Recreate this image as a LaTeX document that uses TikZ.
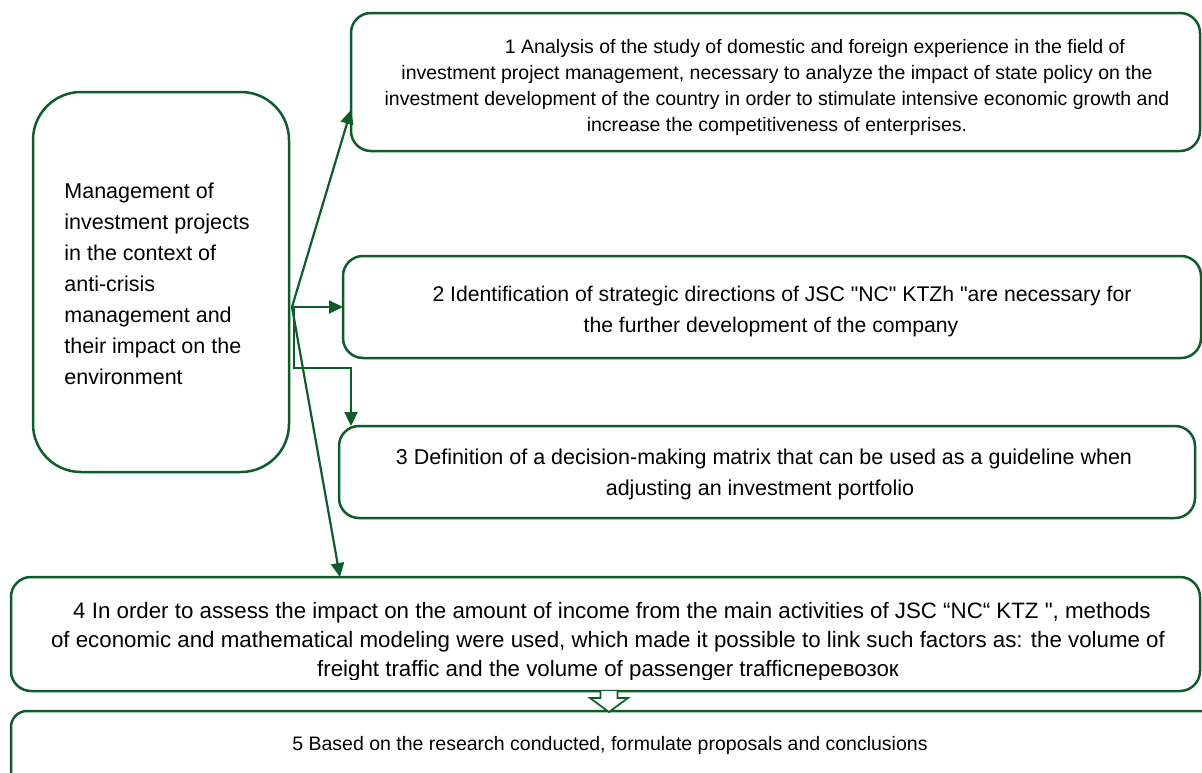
\documentclass[tikz,border=0pt]{standalone}
\usepackage{fontspec}
\setmainfont{Liberation Sans}
\usetikzlibrary{arrows.meta,calc}
\definecolor{grn}{RGB}{14,92,42}
\begin{document}
\begin{tikzpicture}[x=1pt,y=-1pt,
  boxs/.style={draw=grn, line width=2.5pt, rounded corners=#1, inner sep=0pt, outer sep=0pt},
  boxs/.default=20pt,
  txt/.style={align=center, inner sep=0pt, text=black},
  arr/.style={draw=grn, line width=2.2pt, -{Triangle[length=14pt,width=13pt]}},
  hollow/.style={draw=grn, line width=1.7pt, fill=white}]
\useasboundingbox (0,0) rectangle (1202,772);

% boxes
\node[boxs=48pt, minimum width=256pt, minimum height=380pt] (left) at (161,282) {};
\node[boxs, minimum width=849pt, minimum height=138pt] (b1) at (775.5,82) {};
\node[boxs, minimum width=858pt, minimum height=102pt] (b2) at (772,307) {};
\node[boxs, minimum width=856pt, minimum height=92pt] (b3) at (767,472) {};
\node[boxs, minimum width=1189pt, minimum height=114pt] (b4) at (605.5,634) {};
\node[boxs=16pt, minimum width=1229pt, minimum height=110pt] (b5) at (625.5,766) {};

% texts
\node[txt, font=\fontsize{21.5}{31}\selectfont, align=left] (tl) at (157,284)
 {Management of\\investment projects\\in the context of\\anti-crisis\\management and\\their impact on the\\environment};

\begin{scope}
\clip (b1.north west) rectangle (1202,138);
\node[txt, font=\fontsize{19.5}{26}\selectfont] (t1) at (777,87)
 {\hspace*{76pt}1 Analysis of the study of domestic and foreign experience in the field of\\
  investment project management, necessary to analyze the impact of state policy on the\\
  investment development of the country in order to stimulate intensive economic growth and\\
  increase the competitiveness of enterprises.};
\end{scope}

\node[txt, font=\fontsize{21.2}{31}\selectfont] (t2) at (771,312)
 {\hspace*{22pt}2 Identification of strategic directions of JSC \textquotedbl NC\textquotedbl{} KTZh \textquotedbl are necessary for\\
  the further development of the company};

\node[txt, font=\fontsize{21.5}{31}\selectfont] (t3) at (760,474)
 {\hspace*{8pt}3 Definition of a decision-making matrix that can be used as a guideline when\\
  adjusting an investment portfolio};

\begin{scope}
\clip (b4.north west) rectangle (1202,679);
\node[txt, font=\fontsize{22.3}{29}\selectfont] (t4) at (608,642)
 {\hspace*{8pt}4 In order to assess the impact on the amount of income from the main activities of JSC “NC“ KTZ \textquotedbl, methods\\
  of economic and mathematical modeling were used, which made it possible to link such factors as: the volume of\\
  freight traffic and the volume of passenger trafficперевозок};
\end{scope}

\node[txt, font=\fontsize{19.5}{26}\selectfont] (t5) at (610,745)
 {5 Based on the research conducted, formulate proposals and conclusions};

% connectors
\coordinate (o) at (292,307);
\coordinate (k3) at (351,368);
\coordinate (e4x) at (340,0);
\draw[arr] (o) -- ($(b1.west)+(0,28)$);
\draw[arr] (o) -- (o -| b2.west);
\draw[arr] ($(o)+(2,0)$) |- (k3) -- (k3 |- b3.north);
\draw[arr] (o) -- (e4x |- b4.north);

% hollow arrow between box 4 and box 5
\coordinate (h) at ($(b4.south)+(3.5,0)$);
\draw[hollow] ($(h)+(-8.5,0)$) -- ($(h)+(-8.5,7)$) -- ($(h)+(-19,7)$) -- ($(h)+(0,21)$)
  -- ($(h)+(19,7)$) -- ($(h)+(8.5,7)$) -- ($(h)+(8.5,0)$);
\end{tikzpicture}
\end{document}
